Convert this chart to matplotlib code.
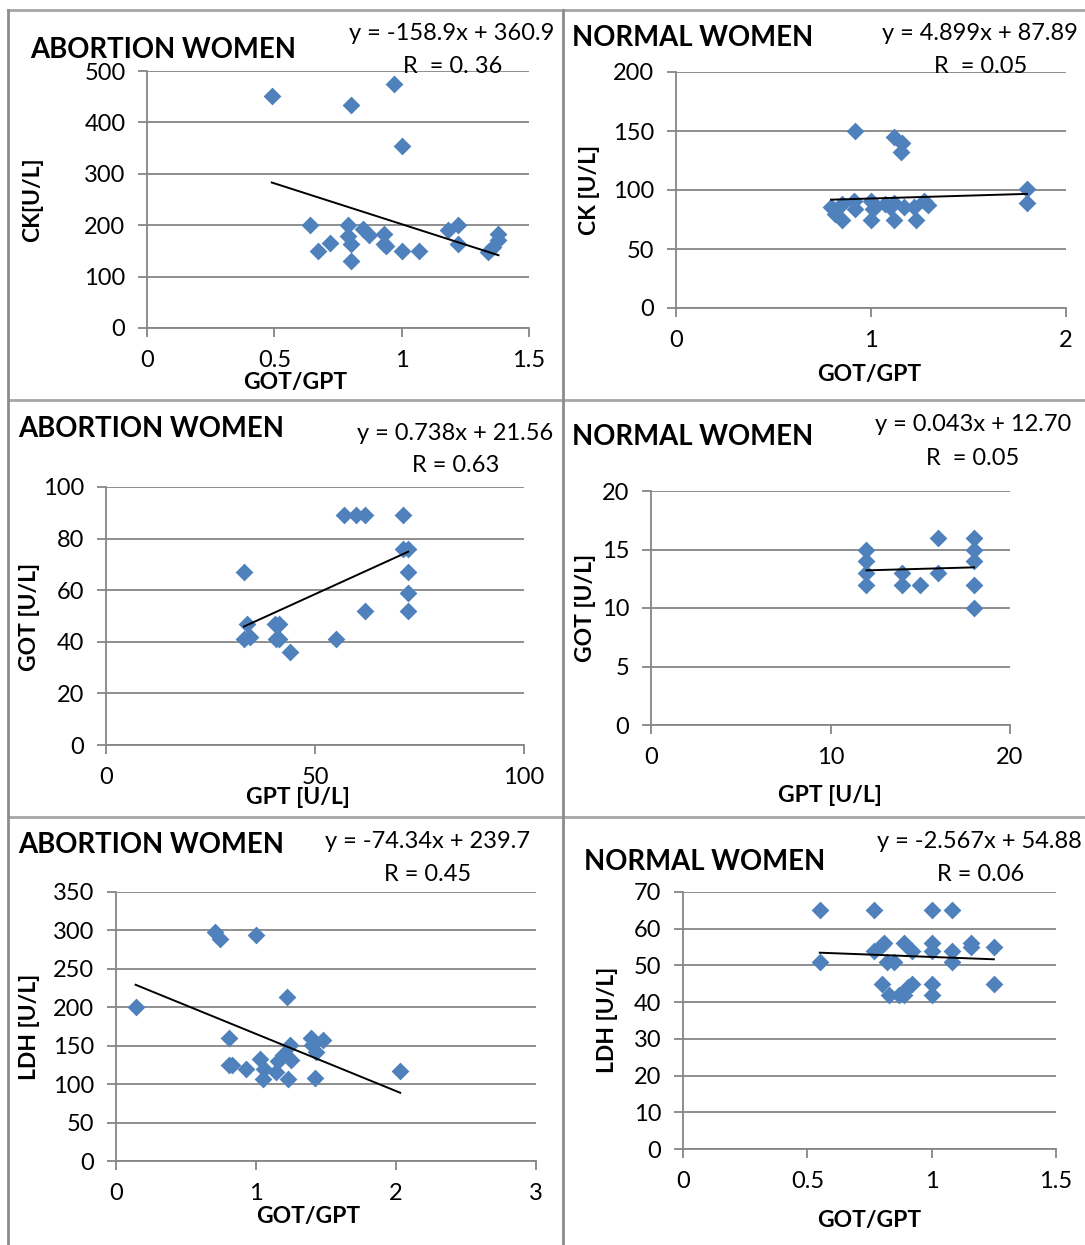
import matplotlib
matplotlib.use("Agg")
import matplotlib.pyplot as plt
from matplotlib.lines import Line2D

plt.rcParams['font.family'] = ['Lato', 'DejaVu Sans']

W, H = 1085, 1245
BLUE = "#4F81BD"
GRID = "#868686"

# --- CK vs GOT/GPT, abortion women
ck_ab_x = [0.49, 0.80, 0.97, 1.00, 0.64, 0.67, 0.72, 0.79, 0.79, 0.80, 0.80, 0.85, 0.87,
           0.93, 0.94, 0.93, 1.00, 1.07, 1.18, 1.22, 1.22, 1.34, 1.36, 1.38, 1.38]
ck_ab_y = [452, 433, 475, 355, 200, 150, 165, 201, 179, 164, 130, 193, 181,
           183, 160, 163, 150, 150, 190, 200, 163, 148, 158, 183, 171]
ck_ab_fit = (-158.9, 360.9)

# --- CK vs GOT/GPT, normal women
ck_no_x = [0.92, 1.12, 1.16, 1.155, 0.795, 0.815, 0.85, 0.85, 0.915, 0.92, 1.00, 1.00,
           1.01, 1.07, 1.095, 1.12, 1.12, 1.17, 1.23, 1.22, 1.27, 1.29, 1.80, 1.80]
ck_no_y = [150, 145, 140, 132, 86, 80, 88, 75, 91, 84, 91, 75,
           84, 88, 86, 75, 89, 86, 75, 86, 91, 87, 101, 89]
ck_no_fit = (4.899, 87.89)

# --- GOT vs GPT, abortion women
got_ab_x = [33.0, 33.8, 33.0, 34.4, 40.4, 41.5, 40.6, 41.5, 44.0, 55.0,
            56.9, 59.9, 62.0, 62.0, 71.0, 71.0, 72.3, 72.3, 72.3, 72.3]
got_ab_y = [67, 47, 41, 42, 47, 47, 41, 41, 36, 41,
            89, 89, 89, 52, 89, 76, 76, 67, 59, 52]
got_ab_fit = (0.738, 21.56)

# --- GOT vs GPT, normal women
got_no_x = [12, 12, 12, 12, 14, 14, 15, 16, 16, 18, 18, 18, 18, 18]
got_no_y = [15, 14, 13, 12, 13, 12, 12, 16, 13, 16, 15, 14, 12, 10]
got_no_fit = (0.043, 12.70)

# --- LDH vs GOT/GPT, abortion women
ldh_ab_x = [0.14, 0.71, 0.74, 1.00, 1.22, 0.81, 0.81, 0.83, 0.93, 1.03, 1.06, 1.05,
            1.14, 1.16, 1.19, 1.23, 1.24, 1.25, 1.39, 1.40, 1.43, 1.42, 1.48, 2.03]
ldh_ab_y = [200, 298, 289, 294, 213, 160, 125, 125, 120, 133, 120, 107,
            116, 130, 138, 107, 151, 131, 160, 151, 142, 108, 157, 117]
ldh_ab_fit = (-74.34, 239.7)

# --- LDH vs GOT/GPT, normal women
ldh_no_x = [0.55, 0.55, 0.77, 0.77, 0.80, 0.81, 0.82, 0.85, 0.80, 0.83, 0.87, 0.89, 0.89,
            0.92, 0.92, 0.905, 1.00, 1.00, 1.00, 1.00, 1.00, 1.08, 1.08, 1.08, 1.16, 1.16,
            1.25, 1.25]
ldh_no_y = [65, 51, 65, 54, 55.5, 56, 51, 51, 45, 42, 42, 56, 42,
            54, 45, 44, 65, 56, 54, 45, 42, 65, 54, 51, 56, 55,
            55, 45]
ldh_no_fit = (-2.567, 54.88)

r_labels = ["R  = 0. 36", "R  = 0.05", "R = 0.63", "R  = 0.05", "R = 0.45", "R = 0.06"]


def fx(px):
    return px / W


def fy(py):
    return 1 - py / H


fig = plt.figure(figsize=(W / 100, H / 100), dpi=100)

# panel frames
for y in (10, 400, 817):
    fig.add_artist(Line2D([fx(8), 1], [fy(y), fy(y)], color="#A6A6A6", lw=2))
for x in (8, 563):
    fig.add_artist(Line2D([fx(x), fx(x)], [fy(10), 0], color="#8C8C8C", lw=2))


def panel(box, xs, ys, fit, xlim, xticks, xticklabels, ylim, yticks,
          title, title_pos, eq_pos, r_text, r_pos, xlabel, xlabel_pos, ylabel, ylabel_pos):
    x0, y0, x1, y1 = box
    ax = fig.add_axes([fx(x0), fy(y1), (x1 - x0) / W, (y1 - y0) / H])
    ax.scatter(xs, ys, marker="D", s=82, color=BLUE, linewidths=0, zorder=3, clip_on=False)
    a, b = fit
    lx = [min(xs), max(xs)]
    ax.plot(lx, [a * v + b for v in lx], color="black", lw=1.4, zorder=4)
    ax.set_xlim(*xlim)
    ax.set_ylim(*ylim)
    ax.set_xticks(xticks)
    ax.set_xticklabels(xticklabels)
    ax.set_yticks(yticks)
    ax.grid(axis="y", color=GRID, lw=1.3)
    ax.set_axisbelow(True)
    for s in ("top", "right"):
        ax.spines[s].set_visible(False)
    for s in ("left", "bottom"):
        ax.spines[s].set_color(GRID)
        ax.spines[s].set_linewidth(1.3)
    ax.tick_params(axis="both", colors=GRID, labelcolor="black", labelsize=17,
                   length=6.5, width=1.3, direction="out")
    ax.tick_params(axis="x", pad=9)
    ax.tick_params(axis="y", pad=9)

    fig.text(fx(title_pos[0]), fy(title_pos[1]), title, fontsize=19.8, fontweight="bold",
             ha="left", va="baseline")
    sign = "+" if b >= 0 else "-"
    eq = f"y = {a:g}x {sign} {abs(b):.2f}" if abs(b) < 20 else f"y = {a:g}x {sign} {abs(b):g}"
    fig.text(fx(eq_pos[0]), fy(eq_pos[1]), eq, fontsize=17, ha="right", va="baseline")
    fig.text(fx(r_pos[0]), fy(r_pos[1]), r_text, fontsize=17, ha="center", va="baseline")
    fig.text(fx(xlabel_pos[0]), fy(xlabel_pos[1]), xlabel, fontsize=16.5, fontweight="bold",
             ha="center", va="center")
    fig.text(fx(ylabel_pos[0]), fy(ylabel_pos[1]), ylabel, fontsize=16.5, fontweight="bold",
             ha="center", va="center", rotation=90)
    return ax


panel((147, 71, 529, 328), ck_ab_x, ck_ab_y, ck_ab_fit,
      (0, 1.5), [0, 0.5, 1, 1.5], ["0", "0.5", "1", "1.5"], (0, 500), range(0, 501, 100),
      "ABORTION WOMEN", (30, 58), (554, 40), r_labels[0], (453, 73),
      "GOT/GPT", (295, 382), "CK[U/L]", (33, 200))

panel((676, 72, 1066, 308), ck_no_x, ck_no_y, ck_no_fit,
      (0, 2), [0, 1, 2], ["0", "1", "2"], (0, 200), range(0, 201, 50),
      "NORMAL WOMEN", (572, 46), (1078, 40), r_labels[1], (981, 73),
      "GOT/GPT", (869, 374), "CK [U/L]", (590, 190))

panel((106, 487, 524, 745), got_ab_x, got_ab_y, got_ab_fit,
      (0, 100), [0, 50, 100], ["0", "50", "100"], (0, 100), range(0, 101, 20),
      "ABORTION WOMEN", (18, 437), (553, 440), r_labels[2], (456, 472),
      "GPT [U/L]", (298, 798), "GOT [U/L]", (30, 617))

panel((651, 491, 1010, 725), got_no_x, got_no_y, got_no_fit,
      (0, 20), [0, 10, 20], ["0", "10", "20"], (0, 20), range(0, 21, 5),
      "NORMAL WOMEN", (572, 445), (1071, 431), r_labels[3], (973, 465),
      "GPT [U/L]", (830, 796), "GOT [U/L]", (585, 608))

panel((116, 892, 536, 1161), ldh_ab_x, ldh_ab_y, ldh_ab_fit,
      (0, 3), [0, 1, 2, 3], ["0", "1", "2", "3"], (0, 350), range(0, 351, 50),
      "ABORTION WOMEN", (18, 853), (530, 848), r_labels[4], (428, 881),
      "GOT/GPT", (308, 1217), "LDH [U/L]", (30, 1027))

panel((683, 892, 1056, 1149), ldh_no_x, ldh_no_y, ldh_no_fit,
      (0, 1.5), [0, 0.5, 1, 1.5], ["0", "0.5", "1", "1.5"], (0, 70), range(0, 71, 10),
      "NORMAL WOMEN", (584, 870), (1082, 848), r_labels[5], (981, 881),
      "GOT/GPT", (869, 1221), "LDH [U/L]", (607, 1020))

fig.savefig("out.png", dpi=100)
